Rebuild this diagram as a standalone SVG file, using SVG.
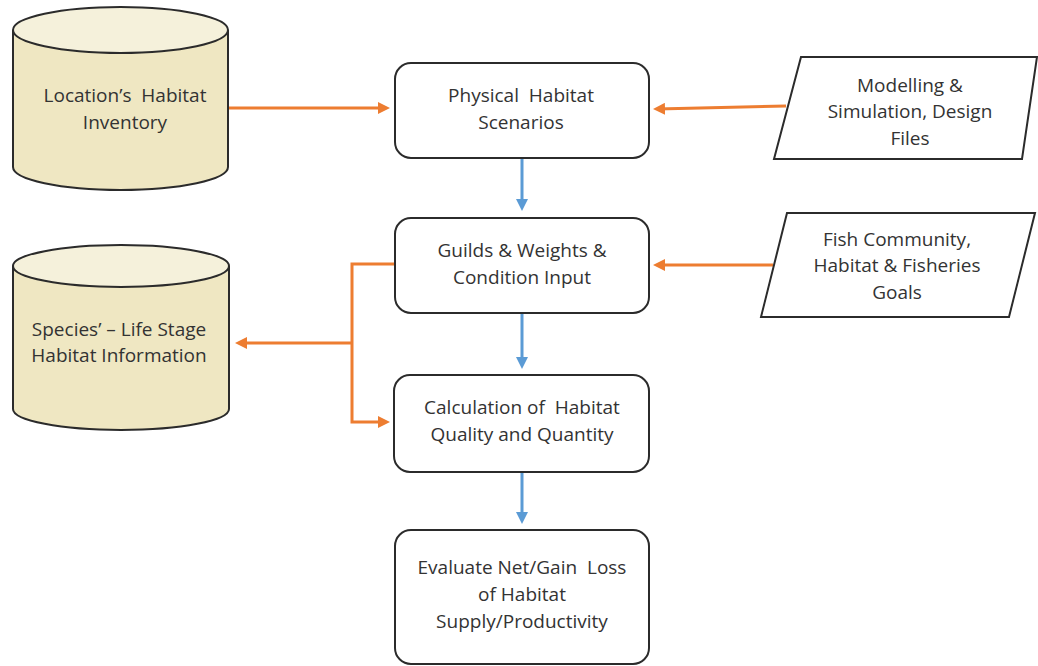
<svg xmlns="http://www.w3.org/2000/svg" width="1038" height="666" viewBox="0 0 1038 666">
<style>
text{font-family:"Open Sans","Liberation Sans",Arial,sans-serif;font-size:19px;fill:#333;text-anchor:middle}
.box{fill:#fff;stroke:#2b2b2b;stroke-width:2}
.cyl{fill:#EFE7C2;stroke:#2b2b2b;stroke-width:2}
.cyltop{fill:#F5F1DB;stroke:#2b2b2b;stroke-width:2}
.or{fill:none;stroke:#ED7D31;stroke-width:3}
.bl{fill:none;stroke:#5B9BD5;stroke-width:3}
</style>
<defs>
<marker id="ao" markerWidth="12" markerHeight="12" refX="8" refY="6" orient="auto" markerUnits="userSpaceOnUse"><path d="M0,0 L12,6 L0,12 z" fill="#ED7D31"/></marker>
<marker id="ab" markerWidth="12" markerHeight="12" refX="8" refY="6" orient="auto" markerUnits="userSpaceOnUse"><path d="M0,0 L12,6 L0,12 z" fill="#5B9BD5"/></marker>
</defs>
<rect width="1038" height="666" fill="#fff"/>
<g id="connectors">
<path class="or" d="M228,108 L386,108" marker-end="url(#ao)"/>
<path class="or" d="M786,106 L657,109" marker-end="url(#ao)"/>
<path class="or" d="M773,265 L657,265" marker-end="url(#ao)"/>
<path class="or" d="M395,264 L352,264 L352,422 L386,422"  marker-end="url(#ao)"/>
<path class="or" d="M352,343 L239,343" marker-end="url(#ao)"/>
<path class="bl" d="M522,158 L522,207" marker-end="url(#ab)"/>
<path class="bl" d="M522,313 L522,365" marker-end="url(#ab)"/>
<path class="bl" d="M522,472 L522,520" marker-end="url(#ab)"/>
</g>
<g id="cyl1">
<path class="cyl" d="M13,30 L13,167 A107.5,23 0 0 0 228,167 L228,30"/>
<ellipse class="cyltop" cx="120.5" cy="30" rx="107.5" ry="23"/>
<text x="125" y="102">Location’s&#160; Habitat</text>
<text x="125" y="129">Inventory</text>
</g>
<g id="cyl2">
<path class="cyl" d="M13,266 L13,409 A108,21 0 0 0 229,409 L229,266"/>
<ellipse class="cyltop" cx="121" cy="266" rx="108" ry="21"/>
<text x="119" y="336">Species’ – Life Stage</text>
<text x="119" y="362">Habitat Information</text>
</g>
<g id="n1">
<rect class="box" x="395" y="63" width="254" height="95" rx="16"/>
<text x="521" y="102">Physical&#160; Habitat</text>
<text x="521" y="129">Scenarios</text>
</g>
<g id="n2">
<rect class="box" x="395" y="218" width="254" height="95" rx="16"/>
<text x="522" y="257">Guilds &amp; Weights &amp;</text>
<text x="522" y="284">Condition Input</text>
</g>
<g id="n3">
<rect class="box" x="394" y="375" width="255" height="97" rx="16"/>
<text x="522" y="414">Calculation of&#160; Habitat</text>
<text x="522" y="441">Quality and Quantity</text>
</g>
<g id="n4">
<rect class="box" x="395" y="530" width="254" height="134" rx="16"/>
<text x="522" y="574">Evaluate Net/Gain&#160; Loss</text>
<text x="522" y="601">of Habitat</text>
<text x="522" y="628">Supply/Productivity</text>
</g>
<g id="p1">
<polygon class="box" points="801,57 1037,57 1022,159 774,159"/>
<text x="910" y="92">Modelling &amp;</text>
<text x="910" y="118">Simulation, Design</text>
<text x="910" y="145">Files</text>
</g>
<g id="p2">
<polygon class="box" points="787,213 1035,213 1009,317 761,317"/>
<text x="897" y="246">Fish Community,</text>
<text x="897" y="272">Habitat &amp; Fisheries</text>
<text x="897" y="299">Goals</text>
</g>
</svg>
